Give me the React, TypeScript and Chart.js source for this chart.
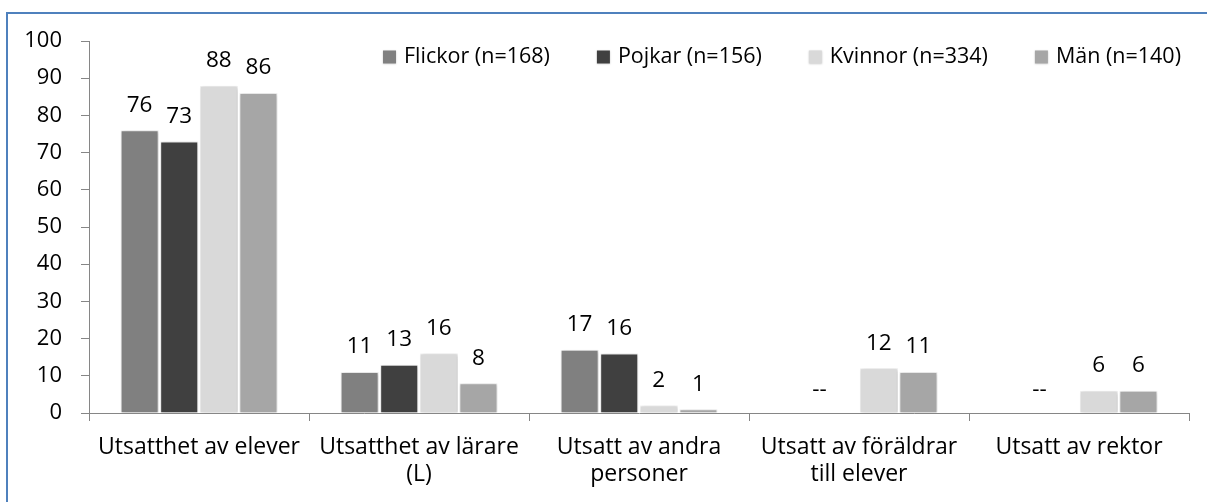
import React, { useEffect, useRef } from "react";
import { Chart, registerables } from "chart.js";

Chart.register(...registerables);

const categories: string[][] = [
  ["Utsatthet av elever"],
  ["Utsatthet av lärare", "(L)"],
  ["Utsatt av andra", "personer"],
  ["Utsatt av föräldrar", "till elever"],
  ["Utsatt av rektor"],
];

const seriesNames = ["Flickor (n=168)", "Pojkar (n=156)", "Kvinnor (n=334)", "Män (n=140)"];
const flickor: (number | null)[] = [76, 11, 17, null, null];
const pojkar: (number | null)[] = [73, 13, 16, null, null];
const kvinnor: (number | null)[] = [88, 16, 2, 12, 6];
const man: (number | null)[] = [86, 8, 1, 11, 6];
const seriesColors = ["#808080", "#404040", "#d9d9d9", "#a6a6a6"];
const missingLabel = "--";

const FONT = "'Open Sans', sans-serif";

const barShadow = {
  id: "barShadow",
  beforeDatasetsDraw(chart: any) {
    const ctx = chart.ctx;
    ctx.save();
    ctx.shadowColor = "rgba(0,0,0,0.22)";
    ctx.shadowBlur = 4;
    ctx.shadowOffsetX = 1;
    ctx.shadowOffsetY = 1;
  },
  afterDatasetsDraw(chart: any) {
    chart.ctx.restore();
  },
};

const valueLabels = {
  id: "valueLabels",
  afterDraw(chart: any) {
    const ctx = chart.ctx;
    ctx.save();
    ctx.font = `22.5px ${FONT}`;
    ctx.fillStyle = "#000";
    ctx.textAlign = "center";
    ctx.textBaseline = "middle";
    chart.data.datasets.forEach((ds: any, di: number) => {
      const meta = chart.getDatasetMeta(di);
      meta.data.forEach((el: any, i: number) => {
        const v = ds.data[i];
        if (v === null || v === undefined) return;
        ctx.fillText(String(v), el.x, el.y - 25);
      });
    });
    const m2 = chart.getDatasetMeta(2);
    const m3 = chart.getDatasetMeta(3);
    const yZero = chart.scales.y.getPixelForValue(0);
    categories.forEach((_, i) => {
      const a = chart.data.datasets[0].data[i];
      const b = chart.data.datasets[1].data[i];
      if (a === null && b === null) {
        const slot = m3.data[i].x - m2.data[i].x;
        const x = m2.data[i].x - 1.5 * slot;
        ctx.fillText(missingLabel, x, yZero - 23);
      }
    });
    ctx.restore();
  },
};

const customLegend = {
  id: "customLegend",
  afterDraw(chart: any) {
    const ctx = chart.ctx;
    const area = chart.chartArea;
    ctx.save();
    ctx.font = `21.5px ${FONT}`;
    ctx.textBaseline = "middle";
    ctx.textAlign = "left";
    const gap = 47;
    const box = 13;
    const textOff = 21;
    const widths = seriesNames.map((s) => ctx.measureText(s).width);
    let total = 0;
    widths.forEach((w, i) => {
      total += textOff + w + (i < widths.length - 1 ? gap : 0);
    });
    let x = area.right - 8 - total;
    const yc = 57;
    seriesNames.forEach((s, i) => {
      ctx.shadowColor = "rgba(0,0,0,0.2)";
      ctx.shadowBlur = 2;
      ctx.fillStyle = seriesColors[i];
      ctx.fillRect(x, yc - box / 2, box, box);
      ctx.shadowBlur = 0;
      ctx.shadowColor = "transparent";
      ctx.fillStyle = "#000";
      ctx.fillText(s, x + textOff, yc);
      x += textOff + widths[i] + gap;
    });
    ctx.restore();
  },
};

export default function App() {
  const ref = useRef<HTMLCanvasElement | null>(null);
  useEffect(() => {
    if (!ref.current) return;
    const data = [flickor, pojkar, kvinnor, man];
    const chart = new Chart(ref.current, {
      type: "bar",
      data: {
        labels: categories,
        datasets: data.map((d, i) => ({
          label: seriesNames[i],
          data: d,
          backgroundColor: seriesColors[i],
          borderColor: "#f4f4f4",
          borderWidth: 1,
          borderSkipped: "bottom",
          categoryPercentage: 0.72,
          barPercentage: 0.96,
        })),
      },
      options: {
        responsive: false,
        animation: false,
        layout: { padding: { top: 41, right: 18, left: 0, bottom: 0 } },
        plugins: {
          legend: { display: false },
          tooltip: { enabled: false },
        },
        scales: {
          x: {
            grid: {
              offset: true,
              drawOnChartArea: false,
              drawTicks: true,
              tickLength: 8,
              color: "#868686",
            },
            border: { color: "#868686", width: 1 },
            ticks: {
              color: "#000",
              font: { family: FONT, size: 23, lineHeight: 1.18 },
              padding: 13,
              maxRotation: 0,
              autoSkip: false,
            },
            afterFit(scale: any) {
              scale.height = 89;
            },
          },
          y: {
            min: 0,
            max: 100,
            ticks: {
              stepSize: 10,
              color: "#000",
              font: { family: FONT, size: 22 },
              padding: 19,
            },
            grid: {
              drawOnChartArea: false,
              drawTicks: true,
              tickLength: 8,
              color: "#868686",
            },
            border: { color: "#868686", width: 1 },
            afterFit(scale: any) {
              scale.width = 89;
            },
          },
        },
      },
      plugins: [barShadow, valueLabels, customLegend],
    });
    return () => chart.destroy();
  }, []);

  return (
    <div
      style={{
        position: "fixed",
        left: 0,
        top: 0,
        width: 1207,
        height: 502,
        overflow: "hidden",
        background: "#fff",
      }}
    >
      <div
        style={{
          position: "absolute",
          left: 6,
          top: 12,
          width: 1400,
          height: 700,
          borderTop: "2px solid #4F81BD",
          borderLeft: "2px solid #4F81BD",
          boxSizing: "border-box",
        }}
      />
      <canvas
        ref={ref}
        width={1207}
        height={502}
        style={{ position: "absolute", left: 0, top: 0, width: 1207, height: 502 }}
      />
    </div>
  );
}
